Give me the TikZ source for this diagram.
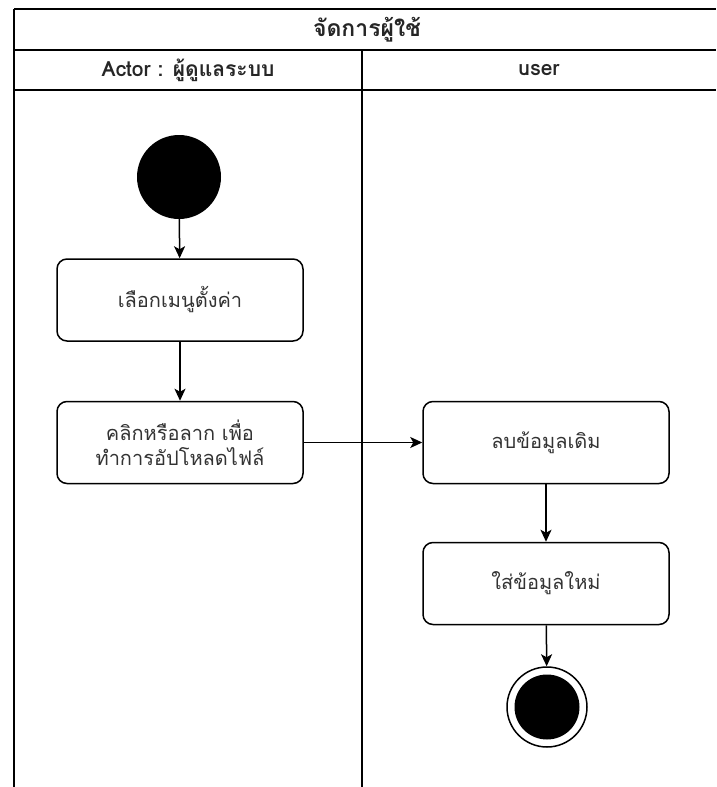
\documentclass[tikz,border=0pt]{standalone}
\usepackage{fontspec}
\setmainfont[Script=Thai]{Loma}
\usetikzlibrary{arrows.meta}
\tikzset{
	lane/.style={line width=1.8pt},
	lanetitle/.style={font=\bfseries\fontsize{21}{25}\selectfont, text=black!85},
	act/.style={draw, line width=1.5pt, rounded corners=10pt, minimum width=246pt, minimum height=82pt, align=center, text=black!80, font=\fontsize{20}{25}\selectfont},
	flow/.style={line width=1.5pt, -{Stealth[length=12pt,width=11pt,inset=3pt]}},
}
\begin{document}
\begin{tikzpicture}[x=1pt,y=-1pt]
	\useasboundingbox (0,0) rectangle (716,787);
	\coordinate (TopLeft)   at (14,9);
	\coordinate (TopRight)  at (716,9);
	\coordinate (TitleLeft) at (14,50);
	\coordinate (TitleRight) at (716,50);
	\coordinate (HeadLeft)  at (14,90);
	\coordinate (HeadRight) at (716,90);
	\coordinate (LaneMid)   at (362,50);
	\coordinate (BottomLeft) at (14,787);
	\coordinate (BottomMid) at (362,787);
	\draw [lane] (TopLeft) -- (TopRight) ;% top of the pool
	\draw [lane] (TitleLeft) -- (TitleRight) ;
	\draw [lane] (HeadLeft) -- (HeadRight) ;
	\draw [lane] (TopLeft) -- (BottomLeft) ;
	\draw [lane] (LaneMid) -- (BottomMid) ;% lane divider
	
	\node [lanetitle, font=\bfseries\fontsize{23}{27}\selectfont] (pool) at (367,30) {จัดการผู้ใช้};
	\node [lanetitle] (admin) at (188,70) {Actor : ผู้ดูแลระบบ};
	\node [lanetitle] (user) at (539,70) {user};
	
	% activities
	\node [circle, fill, minimum size=84pt, inner sep=0pt] (start) at (179,177) {};
	\node [act] (pick) at (180,300) {เลือกเมนูตั้งค่า};
	\node [act] (upload) at (180,442.5) {คลิกหรือลาก เพื่อ\\ทำการอัปโหลดไฟล์};
	\node [act] (remove) at (546,442.5) {ลบข้อมูลเดิม};
	\node [act] (insert) at (546,583.5) {ใส่ข้อมูลใหม่};
	\node [circle, draw, line width=1.5pt, minimum size=80pt, inner sep=0pt] (stop) at (547,707) {};
	\node [circle, fill, minimum size=65pt, inner sep=0pt] (stopdot) at (stop) {};
	
	\draw [flow] (start) -- (pick) ;
	\draw [flow] (pick) -- (upload) ;
	\draw [flow] (upload) -- (remove) ;
	\draw [flow] (remove) -- (insert) ;
	\draw [flow] (insert) -- (stop) ;
	
\end{tikzpicture}
\end{document}
